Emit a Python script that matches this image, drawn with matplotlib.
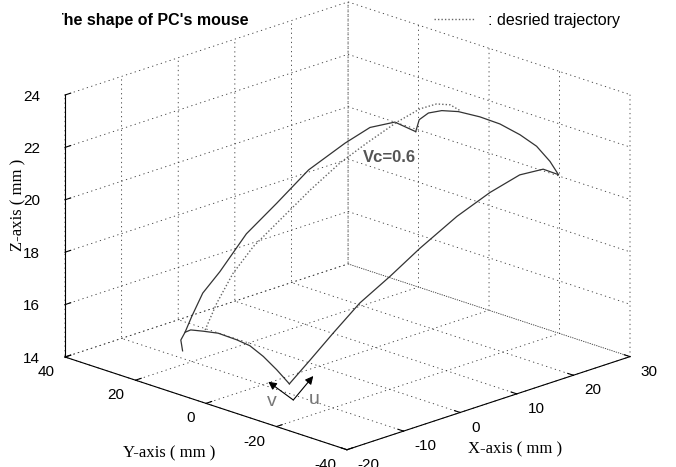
import numpy as np
import matplotlib
matplotlib.use("Agg")
import matplotlib.pyplot as plt
from matplotlib.transforms import Bbox
from mpl_toolkits.mplot3d import proj3d

W, H = 676, 467

x_ticks = [-20, -10, 0, 10, 20, 30]
y_ticks = [-40, -20, 0, 20, 40]
z_ticks = [14, 16, 18, 20, 22, 24]

# left edge of the measured path (starts with the small hook)
left_x = [-10.0, -10.0, -10.0, -8.9, -7.0, -4.1, 0.4, 5.5, 10.9, 17.1, 21.3, 25.5, 29.0]
left_y = [22.7, 23.2, 22.0, 21.9, 21.8, 21.6, 21.3, 20.9, 20.5, 20.1, 19.8, 19.5, 19.2]
left_z = [14.29, 14.68, 15.03, 15.55, 16.32, 16.94, 18.08, 18.90, 19.81, 20.41, 20.72, 20.64, 20.04]

# back edge
back_x = [29.0, 29.0, 29.0, 29.0, 29.0, 29.0, 29.0, 29.0, 29.0, 29.0, 29.0]
back_y = [19.2, 18.2, 15.6, 11.8, 7.1, 1.0, -4.7, -10.4, -15.1, -18.9, -21.3]
back_z = [20.04, 20.54, 20.91, 21.17, 21.34, 21.41, 21.39, 21.23, 21.00, 20.59, 20.19]

# front edge
front_x = [-10.0, -10.0, -10.0, -10.0, -10.0, -10.0, -10.0, -10.0, -10.0]
front_y = [22.0, 20.4, 16.8, 12.6, 7.3, 3.6, -0.2, -4.0, -7.6]
front_z = [15.03, 15.19, 15.30, 15.41, 15.39, 15.33, 15.09, 14.75, 14.37]

# right edge
right_x = [-10.0, -7.0, -3.7, 0.2, 4.6, 8.9, 14.3, 19.1, 23.4, 26.8, 29.0]
right_y = [-7.6, -8.7, -9.9, -11.2, -12.7, -14.3, -16.1, -17.8, -19.3, -20.5, -21.3]
right_z = [14.37, 15.12, 15.96, 16.89, 17.66, 18.50, 19.41, 20.06, 20.49, 20.52, 20.19]

# desired trajectory
des_x = [-10.0, -8.2, -5.7, -2.6, 1.5, 6.1, 10.7, 14.7, 19.3, 22.9, 25.4, 27.5, 29.0]
des_y = [16.3, 15.9, 15.3, 14.5, 13.5, 12.3, 11.2, 10.2, 9.0, 8.2, 7.5, 7.0, 6.6]
des_z = [15.37, 16.28, 17.27, 18.11, 18.88, 19.75, 20.51, 21.01, 21.54, 21.83, 21.87, 21.71, 21.40]

plt.rcParams["font.family"] = ["Liberation Sans", "DejaVu Sans"]
plt.rcParams["font.size"] = 11
plt.rcParams["axes.unicode_minus"] = False
plt.rcParams["grid.linestyle"] = (0, (1.5, 4))
plt.rcParams["grid.color"] = "#333333"
plt.rcParams["grid.linewidth"] = 0.6


def fpx(px, py):
    return px / W, 1 - py / H


fig = plt.figure(figsize=(W / 100, H / 100), dpi=100)
ax = fig.add_axes([0, 0, 1, 1], projection="3d", proj_type="ortho")
ax.view_init(elev=19.2, azim=-135)
ax.set_box_aspect((1, 0.996, 0.693))

solid = dict(color="#333333", lw=0.9)
ax.plot(left_x, left_y, left_z, **solid)
ax.plot(back_x, back_y, back_z, **solid)
ax.plot(front_x, front_y, front_z, **solid)
ax.plot(right_x, right_y, right_z, **solid)
ax.plot(des_x, des_y, des_z, color="#666666", lw=1.0, ls=(0, (1, 1.5)),
        label=": desried trajectory")

ax.set_xlim(-20, 30)
ax.set_ylim(-40, 40)
ax.set_zlim(14, 24)
ax.set_xticks(x_ticks)
ax.set_yticks(y_ticks)
ax.set_zticks(z_ticks)
ax.grid(True)

for axis in (ax.xaxis, ax.yaxis, ax.zaxis):
    axis.pane.set_facecolor((1, 1, 1, 0))
    axis.pane.set_edgecolor((1, 1, 1, 0))
    axis.line.set_color("k")
    axis.line.set_linewidth(0.8)
    axis._axinfo["tick"]["inward_factor"] = 0.0
    axis._axinfo["tick"]["outward_factor"] = 0.25
ax.tick_params(labelsize=11, colors="k", pad=2)
ax.xaxis.set_tick_params(pad=0.8)
ax.yaxis.set_tick_params(pad=0.8)

# matlab-like label alignment
for lbl in ax.get_xticklabels():
    lbl.set_ha("left")
    lbl.set_va("center_baseline")
for lbl in ax.get_yticklabels():
    lbl.set_ha("right")
    lbl.set_va("center_baseline")
for lbl in ax.get_zticklabels():
    lbl.set_ha("right")
    lbl.set_va("center_baseline")

# fit the projected box onto the reference corners
target_L = np.array([65.0, H - 357.0])
target_R = np.array([630.0, H - 357.0])


def corner_px(x, y, z):
    xs, ys, _ = proj3d.proj_transform(x, y, z, ax.get_proj())
    return ax.transData.transform((xs, ys))


for _ in range(5):
    fig.canvas.draw()
    L = corner_px(-20, 40, 14)
    R = corner_px(30, -40, 14)
    s = (target_R[0] - target_L[0]) / (R[0] - L[0])
    bb = ax.get_position(original=True)
    c = np.array([(bb.x0 + bb.width / 2) * W, (bb.y0 + bb.height / 2) * H])
    new_c = target_L - s * (L - c)
    w, h = bb.width * s, bb.height * s
    ax.set_position([new_c[0] / W - w / 2, new_c[1] / H - h / 2, w, h])

# title (left part clipped as in the source)
t = fig.text(*fpx(54, 21), "The shape of PC's mouse", fontsize=11.5,
             fontweight="bold", ha="left", va="center")
t.set_clip_box(Bbox.from_extents(62, 0, W, H))
t.set_clip_on(True)

fig.legend(loc="center left", bbox_to_anchor=fpx(420, 20), frameon=False,
           handlelength=2.55, handletextpad=0.8, fontsize=11.5)

fig.text(*fpx(389, 157), "Vc=0.6", fontsize=12, fontweight="bold",
         color="#555555", ha="center", va="center")

# axis labels
serif = ["Liberation Serif", "DejaVu Serif"]
fig.text(*fpx(515, 449), "X-axis ( mm )", family=serif, fontsize=12,
         ha="center", va="center")
fig.text(*fpx(169, 453), "Y-axis ( mm )", family=serif, fontsize=12,
         ha="center", va="center")
fig.text(*fpx(18, 205), "Z-axis ( mm )", family=serif, fontsize=12,
         ha="center", va="center", rotation=90)

# u / v direction arrows
arrow = dict(arrowstyle="-|>", color="k", lw=0.8, mutation_scale=12,
             shrinkA=0, shrinkB=0)
fig.add_artist(matplotlib.patches.FancyArrowPatch(
    fpx(293.3, 400), fpx(268.3, 381.7), transform=fig.transFigure, **arrow))
fig.add_artist(matplotlib.patches.FancyArrowPatch(
    fpx(293.3, 400), fpx(313.3, 376), transform=fig.transFigure, **arrow))
fig.text(*fpx(271.5, 402), "v", fontsize=14, color="#777777",
         ha="center", va="center")
fig.text(*fpx(314, 400), "u", fontsize=14, color="#777777",
         ha="center", va="center")

fig.savefig("out.png", dpi=100)
